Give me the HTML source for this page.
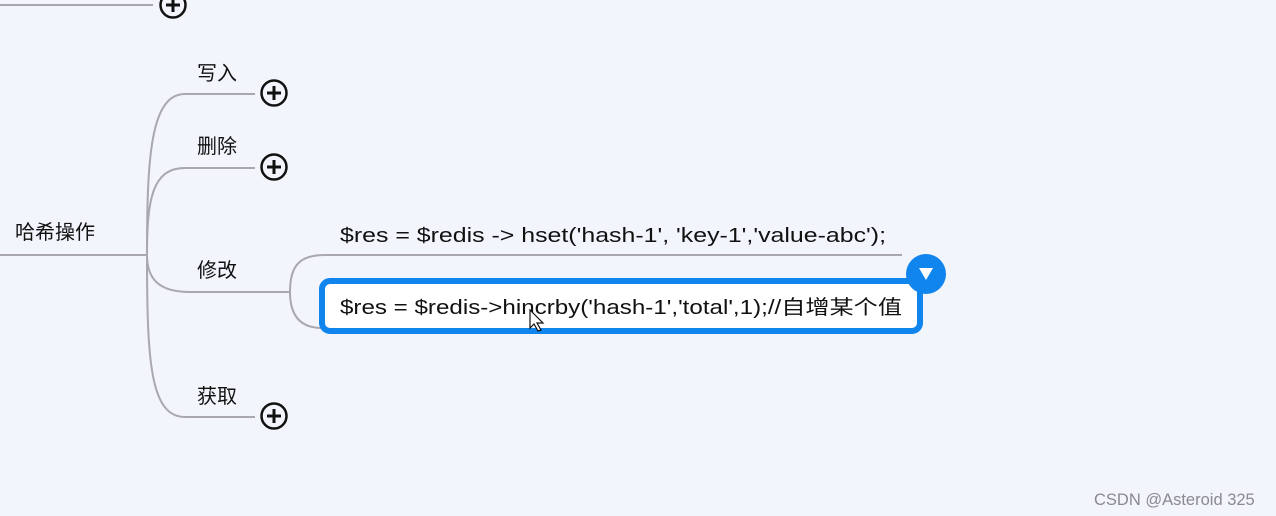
<!DOCTYPE html>
<html><head><meta charset="utf-8"><style>
html,body{margin:0;padding:0;background:#f3f5fc;}
svg{display:block}
text{font-family:"Liberation Sans","Noto Sans CJK SC",sans-serif;fill:#111;}
.cn{font-family:"Liberation Sans","Noto Sans CJK SC",sans-serif;}
</style></head><body>
<svg width="1276" height="516" viewBox="0 0 1276 516" xmlns="http://www.w3.org/2000/svg">
<rect width="1276" height="516" fill="#f3f5fc"/>
<g fill="none" stroke="#a8a8ae" stroke-width="2">
<line x1="0" y1="5" x2="153" y2="5"/>
<line x1="0" y1="255" x2="147" y2="255"/>
<path d="M147 255 C147 160 150 94 185 94 L255 94"/>
<path d="M147 255 C147 200 152 168 185 168 L255 168"/>
<path d="M147 255 C147 280 160 292 190 292 L290 292"/>
<path d="M147 255 C147 360 150 417 185 417 L255 417"/>
<path d="M290 292 C290 265 300 255 325 255 L902 255"/>
<path d="M290 292 C290 315 300 328 322 328"/>
</g>
<g fill="#f3f5fc" stroke="#111" stroke-width="2.5">
<circle cx="173" cy="5" r="12.5"/>
<circle cx="274" cy="93" r="12.5"/>
<circle cx="274" cy="167" r="12.5"/>
<circle cx="274" cy="416" r="12.5"/>
</g>
<g stroke="#111" stroke-width="3">
<path d="M166 5h14M173 -2v14"/>
<path d="M267 93h14M274 86v14"/>
<path d="M267 167h14M274 160v14"/>
<path d="M267 416h14M274 409v14"/>
</g>
<text class="cn" x="15" y="239" font-size="20">哈希操作</text>
<text class="cn" x="197" y="80" font-size="20">写入</text>
<text class="cn" x="197" y="153" font-size="20">删除</text>
<text class="cn" x="197" y="277" font-size="20">修改</text>
<text class="cn" x="197" y="403" font-size="20">获取</text>
<text x="340" y="242" font-size="20" textLength="546" lengthAdjust="spacingAndGlyphs">$res = $redis -&gt; hset('hash-1', 'key-1','value-abc');</text>
<rect x="322" y="281" width="598" height="50" rx="8" fill="#fff" stroke="#1185ee" stroke-width="6"/>
<text x="340" y="314" font-size="20" textLength="562" lengthAdjust="spacingAndGlyphs">$res = $redis-&gt;hincrby('hash-1','total',1);//自增某个值</text>
<circle cx="926" cy="274" r="20" fill="#1185ee"/>
<path d="M919 268h14l-7 12z" fill="#fff"/>
<path d="M530 310 l0 18 l4 -4 l4 7 l3 -1 l-4 -7 l6 0 z" fill="#fff" stroke="#111" stroke-width="1.2"/>
<text x="1094" y="505" font-size="16.5" style="fill:#8a8a8f">CSDN @Asteroid 325</text>
</svg>
</body></html>
